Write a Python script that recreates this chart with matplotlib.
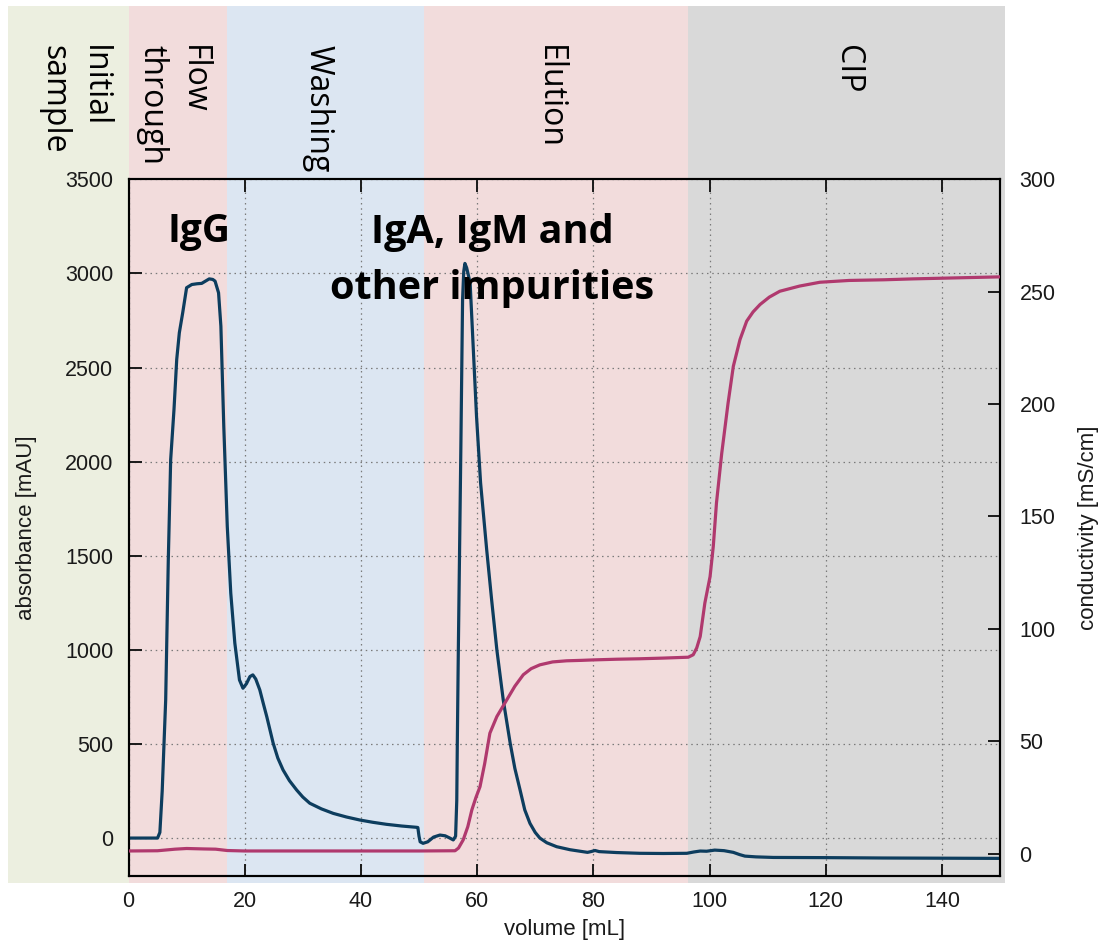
import matplotlib
matplotlib.use("Agg")
import matplotlib.pyplot as plt

# ---------------- data ----------------
abs_x = [0, 5.0, 5.4, 5.8, 6.4, 6.85, 7.26, 7.83, 8.3, 8.75, 9.33, 10.0, 10.9, 11.8, 12.6,
         13.3, 13.9, 14.5, 14.9, 15.5, 15.9, 16.4, 17.0, 17.6, 18.3, 19.1, 19.7, 20.3, 20.9,
         21.4, 21.9, 22.6, 23.2, 23.8, 24.9, 25.7, 26.6, 27.7, 28.95, 30.0, 31.2, 33.2, 35.25,
         37.5, 39.8, 42.0, 44.4, 47.0, 49.6, 49.8, 50.0, 50.2, 50.7, 51.5, 52.5, 53.6, 54.5,
         55.3, 55.9, 56.3, 56.5, 56.6, 56.77, 57.2, 57.5, 57.7, 57.9, 58.2, 58.8, 59.35, 59.9,
         60.6, 61.65, 62.5, 63.4, 64.5, 65.7, 66.5, 67.4, 68.2, 69.1, 70.0, 70.8, 72.0, 73.7,
         76.0, 79.0, 79.6, 80.3, 81.0, 84.0, 88.0, 92.0, 96.1, 97.3, 98.4, 99.5, 100.9, 102.5,
         104.1, 105.2, 106.1, 108.0, 111.0, 120, 130, 140, 150]
abs_y = [0, 0, 30, 250, 734, 1479, 2011, 2277, 2543, 2685, 2791, 2924, 2941, 2945, 2947,
         2960, 2971, 2968, 2959, 2897, 2720, 2188, 1656, 1302, 1036, 840, 796, 820, 858,
         867, 845, 787, 715, 645, 504, 425, 362, 305, 255, 218, 185, 155, 131,
         112, 96, 84, 73, 64, 57, 56, 10, -20, -28, -20, 5, 16, 12,
         0, -10, 10, 200, 521, 1000, 2064, 2862, 3010, 3053, 3030, 2950, 2596, 2241,
         1887, 1532, 1266, 1000, 734, 503, 370, 255, 150, 78, 30, 0, -25, -46,
         -62, -76, -72, -66, -72, -77, -81, -82, -81, -74, -69, -70, -64, -67,
         -76, -88, -96, -100, -103, -104, -106, -107, -108]

cond_x = [0, 5, 8, 10, 13, 15, 17, 20, 30, 40, 50, 56.2, 56.8, 57.6, 58.4, 59.1, 59.8, 60.5,
          61.3, 62.2, 63.4, 65.1, 66.5, 67.95, 69.3, 70.8, 73.0, 75.4, 78, 80, 84, 88, 92,
          96.35, 97.2, 97.8, 98.4, 99.2, 100.1, 100.65, 101.2, 102.1, 103.2, 104.1, 105.25,
          106.4, 107.5, 108.7, 110.3, 112.1, 115.5, 119, 124, 130, 135, 140, 145, 150]
cond_y = [1.2, 1.3, 2.0, 2.3, 2.1, 2.0, 1.4, 1.2, 1.2, 1.2, 1.2, 1.3, 2.5, 6.1, 12, 19.5, 25, 29.8,
          40, 53.6, 61, 68.4, 74.5, 79.6, 82.3, 84, 85.3, 85.8, 86.0, 86.2, 86.5, 86.7, 87.0,
          87.4, 88.5, 91.5, 96.6, 111.5, 123.3, 136.7, 156, 178, 200.5, 216.8, 228.7,
          236.9, 241.0, 244.3, 247.6, 250.2, 252.5, 254.2, 255.0, 255.3, 255.7, 256.0, 256.3, 256.6]

phase_names = ["Initial\nsample", "Flow\nthrough", "Washing", "Elution", "CIP"]
phase_start = [-20.7, 0, 16.9, 50.85, 96.3]
phase_end = [0, 16.9, 50.85, 96.3, 150.9]
phase_label_x = [-9.4, 7.6, 32.6, 72.5, 123.8]
phase_colors = ["#ECEFE0", "#F2DCDC", "#DCE6F2", "#F2DCDC", "#D9D9D9"]

x_ticks = [0, 20, 40, 60, 80, 100, 120, 140]
y_ticks = [0, 500, 1000, 1500, 2000, 2500, 3000, 3500]
y2_ticks = [0, 50, 100, 150, 200, 250, 300]

# ---------------- figure ----------------
W, H = 1099, 944
fig = plt.figure(figsize=(W / 100, H / 100), dpi=100)
ax_left, ax_right, ax_top, ax_bot = 128.5, 1000.0, 179.3, 875.7
ax = fig.add_axes([ax_left / W, 1 - ax_bot / H, (ax_right - ax_left) / W, (ax_bot - ax_top) / H])
ax.patch.set_visible(False)

tick_font = "Liberation Sans"
ink = "#1a1a1a"

# background phases (extend outside the axes)
axh = ax_bot - ax_top
ymin_frac = -(882.7 - ax_bot) / axh
ymax_frac = 1 + (ax_top - 6) / axh
for s, e, c in zip(phase_start, phase_end, phase_colors):
    ax.axvspan(s, e, ymin=ymin_frac, ymax=ymax_frac, facecolor=c, edgecolor="none",
               clip_on=False, zorder=0)

top_frac = (ax_bot - 45) / axh
for name, xc in zip(phase_names, phase_label_x):
    ax.text(xc, top_frac, name, transform=ax.get_xaxis_transform(), rotation=270,
            ha="center", va="top", multialignment="left", fontsize=23,
            family="Open Sans", color="black", linespacing=1.3, clip_on=False)

ax.plot(abs_x, abs_y, color="#0D3D5E", lw=2.3, zorder=3)

ax.set_xlim(0, 150)
ax.set_ylim(-200, 3500)
ax.set_xticks(x_ticks)
ax.set_yticks(y_ticks)
ax.grid(True, color="#7a7a7a", linestyle=(0, (1.2, 3)), linewidth=0.9)
ax.tick_params(direction="in", top=True, right=True, length=9, width=1.4,
               labelsize=15.5, pad=11, colors=ink)
for lbl in ax.get_xticklabels() + ax.get_yticklabels():
    lbl.set_family(tick_font)
for sp in ax.spines.values():
    sp.set_linewidth(1.5)
    sp.set_color("black")

ax.set_xlabel("volume [mL]", fontsize=16, family=tick_font, color=ink, labelpad=5)
ax.set_ylabel("absorbance [mAU]", fontsize=16, family=tick_font, color=ink, labelpad=20)

# text annotations
ax.text(12.1, 3165, "IgG", fontsize=28, fontweight="bold", family="Open Sans",
        ha="center", va="baseline", color="black", zorder=5)
ax.text(62.6, 3160, "IgA, IgM and", fontsize=28.5, fontweight="bold", family="Open Sans",
        ha="center", va="baseline", color="black", zorder=5)
ax.text(62.6, 2865, "other impurities", fontsize=28.5, fontweight="bold", family="Open Sans",
        ha="center", va="baseline", color="black", zorder=5)

ax2 = ax.twinx()
ax2.patch.set_visible(False)
ax2.plot(cond_x, cond_y, color="#B0396E", lw=2.3, zorder=3)
ax2.set_ylim(-9.8, 300)
ax2.set_yticks(y2_ticks)
ax2.tick_params(direction="in", left=False, right=True, length=9, width=1.4,
                labelsize=15.5, pad=14, colors=ink)
for lbl in ax2.get_yticklabels():
    lbl.set_family(tick_font)
for sp in ax2.spines.values():
    sp.set_linewidth(1.5)
ax2.set_ylabel("conductivity [mS/cm]", fontsize=16, family=tick_font, color=ink, labelpad=16)

fig.savefig("out.png", dpi=100)
